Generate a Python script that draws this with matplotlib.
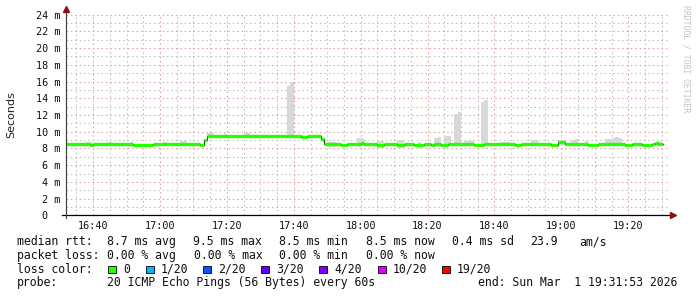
"""SmokePing style latency graph (median rtt + smoke) for the last 3 hours."""
import matplotlib

matplotlib.use("Agg")
import matplotlib.dates as mdates  # noqa: E402
import matplotlib.pyplot as plt  # noqa: E402
import pandas as pd  # noqa: E402
from matplotlib.patches import Rectangle  # noqa: E402
from matplotlib.ticker import FuncFormatter, MultipleLocator  # noqa: E402

DAY = "2026-03-01 "
START, END = "16:31:53", "19:31:53"

# median rtt (ms), held from each time until the next one
median_times = ["16:32", "16:39", "16:40", "16:52", "16:58", "17:12", "17:13", "17:14",
                "17:33", "17:38", "17:42", "17:44", "17:48", "17:49", "17:54", "17:56",
                "18:00", "18:01", "18:05", "18:07", "18:11", "18:13", "18:16", "18:19",
                "18:21", "18:22", "18:24", "18:26", "18:34", "18:37", "18:46", "18:48",
                "18:57", "18:59", "19:01", "19:08", "19:11", "19:19", "19:21", "19:24",
                "19:27", "19:28", "19:29"]
median_values = [8.55, 8.45, 8.55, 8.45, 8.55, 8.45, 9.0, 9.5,
                 9.45, 9.5, 9.4, 9.5, 9.1, 8.5, 8.4, 8.5,
                 8.65, 8.5, 8.4, 8.5, 8.4, 8.5, 8.4, 8.5,
                 8.4, 8.5, 8.4, 8.55, 8.45, 8.55, 8.45, 8.55,
                 8.45, 8.75, 8.55, 8.45, 8.55, 8.45, 8.55, 8.45,
                 8.55, 8.7, 8.55]
median_end = "19:30:30"

# smoke: max rtt (ms) for the minutes where it shows above the median
smoke_times = ["16:38", "16:39", "16:44", "16:45", "16:51", "17:01", "17:06", "17:07",
               "17:14", "17:15", "17:19", "17:25", "17:26", "17:38", "17:39", "17:42",
               "17:48", "17:50", "17:51", "17:52", "17:59", "18:00", "18:05", "18:06",
               "18:11", "18:12", "18:17", "18:22", "18:23", "18:25", "18:26", "18:28",
               "18:29", "18:31", "18:32", "18:33", "18:36", "18:37", "18:42", "18:43",
               "18:44", "18:51", "18:52", "18:59", "19:00", "19:03", "19:04", "19:07",
               "19:13", "19:14", "19:15", "19:16", "19:17", "19:29"]
smoke_tops = [8.8, 8.8, 8.8, 8.8, 8.75, 8.8, 8.9, 8.9,
              9.9, 9.9, 9.7, 9.8, 9.8, 15.5, 16.0, 9.65,
              9.2, 8.8, 8.8, 8.8, 9.3, 9.3, 8.9, 8.9,
              9.0, 9.0, 8.8, 9.3, 9.4, 9.5, 9.5, 12.1,
              12.4, 8.9, 8.9, 8.9, 13.5, 13.8, 8.8, 8.8,
              8.8, 9.0, 9.0, 9.0, 9.0, 9.0, 9.1, 8.9,
              9.1, 9.1, 9.2, 9.4, 9.2, 8.9]

legend_rows = [
    [("median rtt:", 16.7), ("8.7 ms avg", 107), ("9.5 ms max", 193), ("8.5 ms min", 279),
     ("8.5 ms now", 366), ("0.4 ms sd", 452), ("23.9", 530), ("am/s", 579)],
    [("packet loss:", 16.7), ("0.00 % avg", 107), ("0.00 % max", 194), ("0.00 % min", 279),
     ("0.00 % now", 366)],
    [("loss color:", 16.7)],
    [("probe:", 16.7), ("20 ICMP Echo Pings (56 Bytes) every 60s", 107),
     ("end: Sun Mar  1 19:31:53 2026", 478)],
]
loss_labels = ["0", "1/20", "2/20", "3/20", "4/20", "10/20", "19/20"]
loss_colors = ["#26ff00", "#00b8ff", "#0059ff", "#5e00ff", "#7e00ff", "#dd00ff", "#ff0000"]
loss_label_x = [123, 161, 218, 276, 334, 393, 457]
row_y = [241.7, 255.2, 269.0, 282.7]

W, H = 697, 297
MONO = "DejaVu Sans Mono"


def ts(t):
    return pd.Timestamp(DAY + t)


fig = plt.figure(figsize=(W / 100, H / 100), dpi=100)
fig.patch.set_facecolor("white")
x0, x1, ytop, ybot = 66, 668, 14.7, 215.3
ax = fig.add_axes([x0 / W, 1 - ybot / H, (x1 - x0) / W, (ybot - ytop) / H])

med_t = [ts(t) for t in median_times]
med_s = pd.Series(median_values, index=med_t)
ends = med_t[1:] + [ts(median_end)]

# smoke bars, from just under the median up to the max rtt
sm_t = [ts(t) for t in smoke_times]
sm_base = [med_s[med_s.index <= t].iloc[-1] - 0.3 for t in sm_t]
ax.bar(sm_t, [top - b for top, b in zip(smoke_tops, sm_base)], bottom=sm_base,
       width=1 / 1440, align="edge", color="#d8d8d8", linewidth=0, zorder=2)

# median: thin dark step line, loss-coloured thick segments on top
ax.step(med_t + [ts(median_end)], median_values + [median_values[-1]], where="post",
        color="#202020", lw=0.8, zorder=3)
ax.hlines(median_values, med_t, ends, colors=loss_colors[0], lw=2.4, zorder=4)

ax.set_xlim(ts(START), ts(END))
ax.set_ylim(0, 24)

ax.xaxis.set_major_locator(mdates.MinuteLocator(byminute=[0, 20, 40]))
ax.xaxis.set_minor_locator(mdates.MinuteLocator(byminute=range(0, 60, 5)))
ax.xaxis.set_major_formatter(mdates.DateFormatter("%H:%M"))
ax.yaxis.set_major_locator(MultipleLocator(2))
ax.yaxis.set_minor_locator(MultipleLocator(1))
ax.yaxis.set_major_formatter(FuncFormatter(lambda v, p: f"{int(v)} m" if v > 0 else "0  "))

ax.grid(which="major", color="#e39a9a", ls=(0, (1.4, 2.8)), lw=0.75, zorder=0)
ax.grid(which="minor", color="#bdbdbd", ls=(0, (1.4, 2.8)), lw=0.75, zorder=0)
ax.set_axisbelow(True)

for side in ("top", "right", "bottom"):
    ax.spines[side].set_visible(False)
ax.spines["left"].set_color("#404040")
ax.spines["left"].set_linewidth(0.8)

ax.tick_params(which="both", length=0, labelsize=7.3, labelcolor="#101010")
ax.tick_params(axis="y", pad=4.3)
ax.tick_params(axis="x", pad=4)
for lab in ax.get_xticklabels() + ax.get_yticklabels():
    lab.set_family(MONO)

# axis lines with arrows
ax.plot([-0.006, 1.004], [0, 0], transform=ax.transAxes, color="black", lw=0.9,
        clip_on=False, zorder=5)
ax.plot([0, 0], [-0.012, 1.02], transform=ax.transAxes, color="#404040", lw=0.8,
        clip_on=False, zorder=5)
ax.plot([1.008], [0], marker=">", ms=4, color="#8b1010", transform=ax.transAxes,
        clip_on=False, zorder=6)
ax.plot([0], [1.027], marker="^", ms=4, color="#8b1010", transform=ax.transAxes,
        clip_on=False, zorder=6)

fig.text(11 / W, 1 - 115 / H, "Seconds", rotation=90, ha="center", va="center",
         fontsize=8, family="DejaVu Sans", color="#202020")
fig.text(686 / W, 1 - 59 / H, "RRDTOOL / TOBI OETIKER", rotation=270, ha="center",
         va="center", fontsize=5.9, family=MONO, color="#c4c4c4")

for row, y in zip(legend_rows, row_y):
    for txt, x in row:
        fig.text(x / W, 1 - (y + 3.6) / H, txt, ha="left", va="baseline",
                 fontsize=8.3, family=MONO, color="#101010")

for lab, col, x in zip(loss_labels, loss_colors, loss_label_x):
    fig.patches.append(Rectangle(((x - 15) / W, 1 - (row_y[2] + 4) / H), 7.5 / W, 7.5 / H,
                                 transform=fig.transFigure, facecolor=col,
                                 edgecolor="black", lw=0.6))
    fig.text(x / W, 1 - (row_y[2] + 3.6) / H, lab, ha="left", va="baseline",
             fontsize=8.3, family=MONO, color="#101010")

fig.savefig("out.png", dpi=100)
